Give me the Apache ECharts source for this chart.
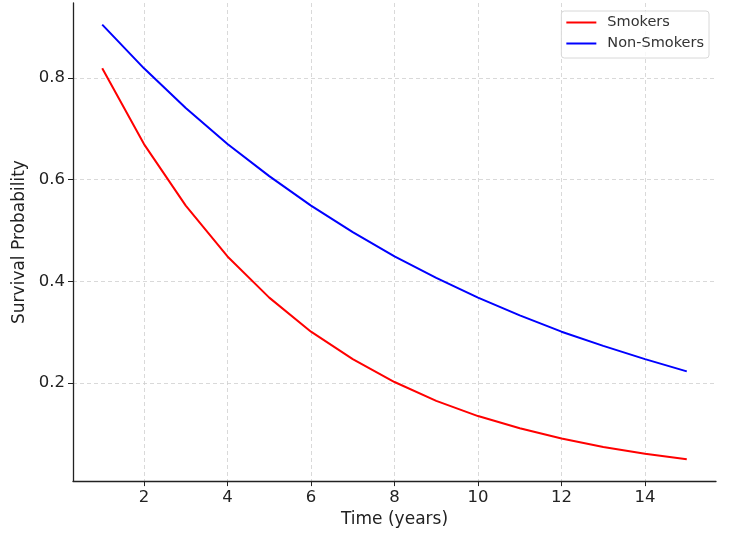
<!DOCTYPE html>
<html>
<head>
<meta charset="utf-8">
<script src="https://cdn.jsdelivr.net/npm/echarts@6/dist/echarts.min.js"></script>
<style>
    html, body { margin: 0; padding: 0; background: #fff; }
    #main { width: 750px; height: 533px; }
</style>
</head>
<body>
<div id="main"></div>
<script>
// 数据
var years = [1, 2, 3, 4, 5, 6, 7, 8, 9, 10, 11, 12, 13, 14, 15];
var smokers = [0.819, 0.670, 0.549, 0.449, 0.368, 0.301, 0.247, 0.202, 0.165, 0.135, 0.111, 0.091, 0.074, 0.061, 0.050];
var nonSmokers = [0.905, 0.819, 0.741, 0.670, 0.607, 0.549, 0.497, 0.449, 0.407, 0.368, 0.333, 0.301, 0.273, 0.247, 0.223];
var xTicks = [2, 4, 6, 8, 10, 12, 14];
var yTicks = [0.2, 0.4, 0.6, 0.8];

function pairs(vals) {
    var out = [];
    for (var i = 0; i < years.length; i++) {
        out.push([years[i], vals[i]]);
    }
    return out;
}

var font = "DejaVu Sans";
var chart = echarts.init(document.getElementById('main'));
var option = {
    animation: false,
    backgroundColor: '#fff',
    grid: { left: 73, right: 34, top: 3, bottom: 51, containLabel: false },
    legend: {
        right: 41,
        top: 11,
        orient: 'vertical',
        itemWidth: 30,
        itemHeight: 2,
        itemGap: 4,
        padding: [3, 5, 6, 5],
        borderColor: '#d8d8d8',
        borderWidth: 1,
        borderRadius: 3,
        backgroundColor: 'rgba(255,255,255,0.8)',
        icon: 'rect',
        textStyle: { fontFamily: font, fontSize: 14.5, color: '#333', lineHeight: 17, padding: [0, 0, 0, 6] },
        data: ['Smokers', 'Non-Smokers']
    },
    xAxis: {
        type: 'value',
        min: 0.3,
        max: 15.7,
        name: 'Time (years)',
        nameLocation: 'middle',
        nameGap: 27,
        nameTextStyle: { fontFamily: font, fontSize: 17, color: '#222' },
        axisLine: { show: true, onZero: false, lineStyle: { color: '#222', width: 1.3 } },
        axisTick: { show: true, length: 5, customValues: xTicks, lineStyle: { color: '#222' } },
        axisLabel: { customValues: xTicks, fontFamily: font, fontSize: 16.5, color: '#222', margin: 8 },
        splitLine: { show: true, lineStyle: { color: '#cfcfcf', type: [4, 3], width: 0.8 } }
    },
    yAxis: {
        type: 'value',
        min: 0.0071,
        max: 0.9475,
        name: 'Survival Probability',
        nameLocation: 'middle',
        nameGap: 41,
        nameTextStyle: { fontFamily: font, fontSize: 17, color: '#222' },
        axisLine: { show: true, onZero: false, lineStyle: { color: '#222', width: 1.3 } },
        axisTick: { show: true, length: 5, customValues: yTicks, lineStyle: { color: '#222' } },
        axisLabel: {
            customValues: yTicks,
            fontFamily: font, fontSize: 16.5, color: '#222', margin: 8,
            formatter: function (v) { return v.toFixed(1); }
        },
        splitLine: { show: true, lineStyle: { color: '#cfcfcf', type: [4, 3], width: 0.8 } }
    },
    series: [
        {
            name: 'Smokers', type: 'line', data: pairs(smokers),
            showSymbol: false, color: '#ff0000',
            lineStyle: { width: 2, color: '#ff0000' }
        },
        {
            name: 'Non-Smokers', type: 'line', data: pairs(nonSmokers),
            showSymbol: false, color: '#0000ff',
            lineStyle: { width: 2, color: '#0000ff' }
        }
    ]
};
chart.setOption(option);
</script>
</body>
</html>
